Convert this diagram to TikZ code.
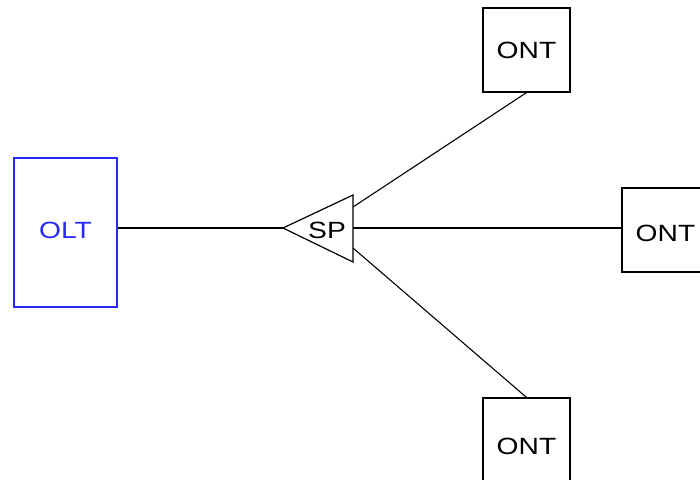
\documentclass[tikz,border=0pt]{standalone}
\usepackage{fontspec}
\setmainfont{Liberation Sans}
\newcommand{\wtxt}[1]{\scalebox{1.2}[1]{#1}}
\begin{document}
\begin{tikzpicture}[x=1pt,y=-1pt,
  box/.style={draw=black,line width=1.2pt,minimum width=87pt,minimum height=84pt,inner sep=0pt,
    font=\fontsize{23.5}{27}\selectfont},
  oltbox/.style={draw=oltblue,line width=1.2pt,minimum width=103pt,minimum height=149pt,inner sep=0pt,
    text=oltblue,font=\fontsize{23.5}{27}\selectfont},
  link/.style={line width=1.1pt,black}]
\definecolor{oltblue}{RGB}{40,40,255}
\useasboundingbox (0,0) rectangle (700,479);
\node[oltbox] (olt) at (65.5,232.5) {\raisebox{2pt}[\height][\depth]{\wtxt{OLT}}};
\node[box] (ont1) at (526.5,50) {\wtxt{ONT}};
\node[box] (ont2) at (665.5,230) {\raisebox{-3pt}[\height][\depth]{\wtxt{ONT}}};
\node[box] (ont3) at (526.5,440) {\raisebox{-6pt}[\height][\depth]{\wtxt{ONT}}};
\coordinate (spL) at (283,228);
\coordinate (spT) at (353,195);
\coordinate (spB) at (353,262);
\draw[line width=1.2pt,line join=miter] (spL) -- (spT) -- (spB) -- cycle;
\node[font=\fontsize{23.5}{27}\selectfont,inner sep=0pt] (sp) at (327,230) {\wtxt{SP}};
\coordinate (sp1) at (353,207);
\coordinate (sp2) at (353,228);
\coordinate (sp3) at (353,248);
\draw[link] (olt.east |- spL) -- (spL);
\draw[link] (sp1) -- (ont1.south);
\draw[link] (sp2) -- (ont2.west |- sp2);
\draw[link] (sp3) -- (ont3.north);
\end{tikzpicture}
\end{document}
